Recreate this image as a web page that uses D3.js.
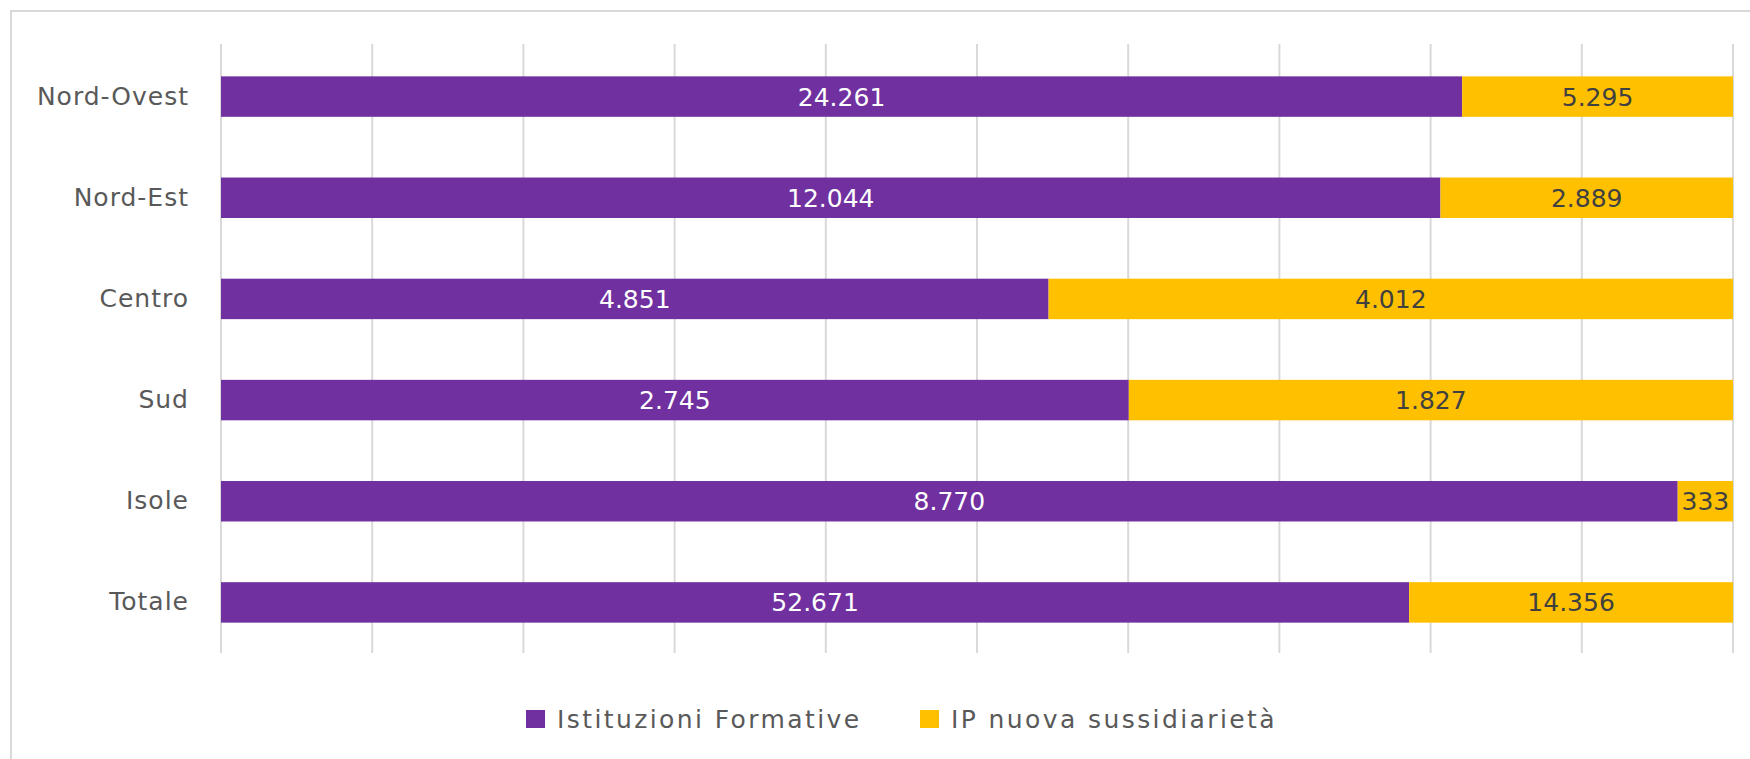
<!DOCTYPE html>
<html>
<head>
<meta charset="utf-8">
<script src="https://cdn.jsdelivr.net/npm/d3@7"></script>
<style>
  body { margin: 0; background: #fff; }
  svg { display: block; font-family: "DejaVu Sans", sans-serif; }
</style>
</head>
<body>
<svg id="chart" width="1750" height="759"></svg>
<script>
// chart data
const regions = ["Nord-Ovest", "Nord-Est", "Centro", "Sud", "Isole", "Totale"];
const istituzioni = [24261, 12044, 4851, 2745, 8770, 52671];
const sussidiarieta = [5295, 2889, 4012, 1827, 333, 14356];
const seriesNames = ["Istituzioni Formative", "IP nuova sussidiarietà"];
const gridTicks = [0, 0.1, 0.2, 0.3, 0.4, 0.5, 0.6, 0.7, 0.8, 0.9, 1];

const colors = ["#7030a0", "#ffc000"];
const labelColors = ["#ffffff", "#404040"];
const fmt = d3.formatLocale({ decimal: ",", thousands: ".", grouping: [3] }).format(",d");

const svg = d3.select("#chart");

// outer chart border (right and bottom fall outside the picture)
svg.append("rect")
  .attr("x", 11).attr("y", 11)
  .attr("width", 1760).attr("height", 770)
  .attr("fill", "none")
  .attr("stroke", "#d9d9d9")
  .attr("stroke-width", 2);

const x = d3.scaleLinear().domain([0, 1]).range([221, 1733]);
const y = d3.scaleBand().domain(regions).range([46, 653])
  .paddingInner(0.6).paddingOuter(0.3);

// vertical gridlines
svg.append("g")
  .selectAll("line")
  .data(gridTicks)
  .enter()
  .append("line")
  .attr("x1", (d) => x(d)).attr("x2", (d) => x(d))
  .attr("y1", 44).attr("y2", 653)
  .attr("stroke", "#d9d9d9")
  .attr("stroke-width", 2);

// build the 100% stacked rows
const rows = regions.map((r, i) => ({
  region: r,
  values: [istituzioni[i], sussidiarieta[i]],
}));
const stack = d3.stack()
  .keys([0, 1])
  .value((d, k) => d.values[k])
  .offset(d3.stackOffsetExpand);
const layers = stack(rows);

const layerG = svg.append("g")
  .selectAll("g")
  .data(layers)
  .enter()
  .append("g")
  .attr("fill", (d) => colors[d.key]);

layerG.selectAll("rect")
  .data((d) => d)
  .enter()
  .append("rect")
  .attr("x", (d) => x(d[0]))
  .attr("width", (d) => x(d[1]) - x(d[0]))
  .attr("y", (d) => y(d.data.region))
  .attr("height", y.bandwidth());

// data labels centred in each segment
svg.append("g")
  .selectAll("g")
  .data(layers)
  .enter()
  .append("g")
  .attr("fill", (d) => labelColors[d.key])
  .each(function (layer) {
    d3.select(this)
      .selectAll("text")
      .data(layer)
      .enter()
      .append("text")
      .attr("x", (d) => (x(d[0]) + x(d[1])) / 2)
      .attr("y", (d) => y(d.data.region) + y.bandwidth() / 2)
      .attr("dy", "0.36em")
      .attr("text-anchor", "middle")
      .style("font-size", "25px")
      .text((d) => fmt(d.data.values[layer.key]));
  });

// category axis
const yAxis = svg.append("g")
  .attr("transform", `translate(${x(0)},0)`)
  .call(d3.axisLeft(y).tickSize(0).tickPadding(32));
yAxis.select(".domain").remove();
yAxis.selectAll("text")
  .attr("fill", "#595959")
  .style("font-size", "25px")
  .style("font-family", "DejaVu Sans, sans-serif")
  .style("letter-spacing", "1px");

// legend
const legendX = [526, 920];
const legend = svg.append("g")
  .selectAll("g")
  .data(seriesNames)
  .enter()
  .append("g")
  .attr("transform", (d, i) => `translate(${legendX[i]},719)`);
legend.append("rect")
  .attr("x", 0).attr("y", -9)
  .attr("width", 19).attr("height", 18)
  .attr("fill", (d, i) => colors[i]);
legend.append("text")
  .attr("x", 31)
  .attr("dy", "0.36em")
  .attr("fill", "#595959")
  .style("font-size", "25px")
  .style("letter-spacing", "2.4px")
  .text((d) => d);
</script>
</body>
</html>
